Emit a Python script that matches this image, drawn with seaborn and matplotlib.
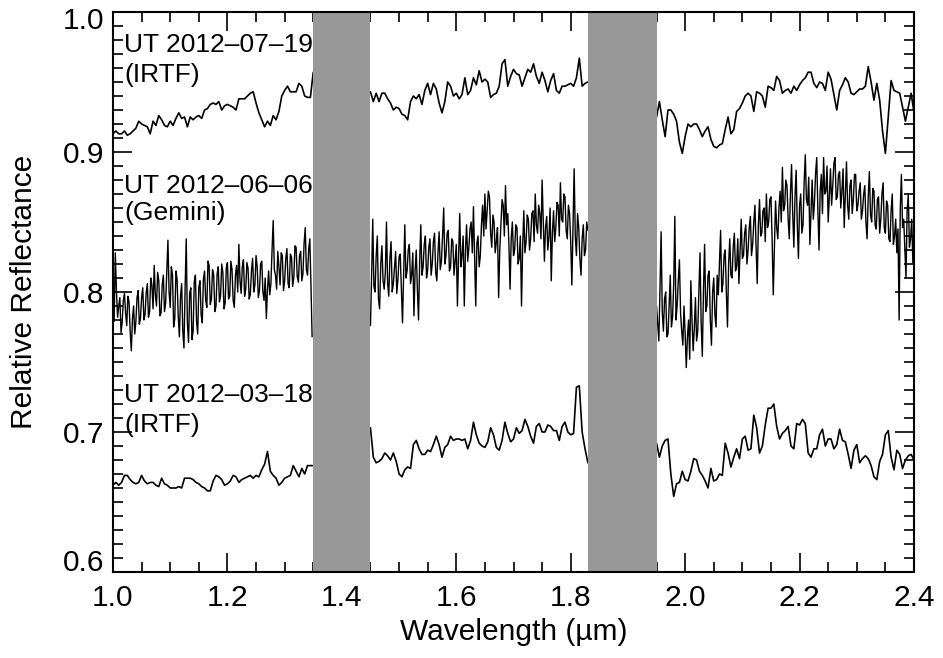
import numpy as np
import pandas as pd
import matplotlib
matplotlib.use("Agg")
import matplotlib.pyplot as plt
import matplotlib.transforms as mtransforms
import seaborn as sns
from matplotlib.ticker import MultipleLocator, FormatStrFormatter

# segment start wavelengths (um) and sampling steps
irtfStep = 0.005
geminiStep = 0.002
segStarts = [1.00, 1.45, 1.95]

# telluric gaps shown as grey bands
gapBands = [(1.35, 1.45), (1.83, 1.95)]

# UT 2012-07-19 (IRTF)
jul19Seg1 = [
    0.913, 0.915, 0.913, 0.913, 0.915, 0.912, 0.913, 0.915, 0.917, 0.922,
    0.920, 0.919, 0.918, 0.913, 0.922, 0.919, 0.926, 0.923, 0.919, 0.918,
    0.922, 0.919, 0.924, 0.928, 0.924, 0.925, 0.918, 0.925, 0.923, 0.925,
    0.926, 0.924, 0.930, 0.931, 0.934, 0.935, 0.934, 0.936, 0.930, 0.933,
    0.934, 0.933, 0.932, 0.930, 0.938, 0.938, 0.938, 0.940, 0.942, 0.943,
    0.935, 0.928, 0.923, 0.918, 0.922, 0.919, 0.926, 0.923, 0.929, 0.940,
    0.944, 0.947, 0.943, 0.943, 0.943, 0.949, 0.947, 0.940, 0.939, 0.939,
    0.957,
]
jul19Seg2 = [
    0.943, 0.936, 0.942, 0.936, 0.942, 0.942, 0.938, 0.935, 0.930, 0.932,
    0.931, 0.927, 0.926, 0.923, 0.936, 0.940, 0.938, 0.941, 0.934, 0.944,
    0.949, 0.941, 0.949, 0.945, 0.935, 0.928, 0.936, 0.950, 0.947, 0.940,
    0.942, 0.938, 0.941, 0.953, 0.941, 0.944, 0.953, 0.948, 0.958, 0.950,
    0.952, 0.950, 0.939, 0.941, 0.942, 0.947, 0.963, 0.966, 0.947, 0.954,
    0.959, 0.956, 0.955, 0.947, 0.953, 0.959, 0.957, 0.963, 0.954, 0.949,
    0.957, 0.951, 0.943, 0.951, 0.956, 0.944, 0.942, 0.947, 0.947, 0.948,
    0.949, 0.947, 0.953, 0.967, 0.947, 0.949, 0.950,
]
jul19Seg3 = [
    0.925, 0.936, 0.923, 0.911, 0.930, 0.930, 0.927, 0.922, 0.907, 0.899,
    0.911, 0.920, 0.918, 0.920, 0.920, 0.916, 0.911, 0.915, 0.918, 0.909,
    0.904, 0.903, 0.905, 0.906, 0.916, 0.925, 0.913, 0.916, 0.929, 0.931,
    0.935, 0.940, 0.942, 0.940, 0.929, 0.943, 0.942, 0.940, 0.932, 0.947,
    0.946, 0.944, 0.954, 0.951, 0.942, 0.944, 0.945, 0.942, 0.947, 0.944,
    0.948, 0.951, 0.953, 0.957, 0.957, 0.949, 0.946, 0.950, 0.949, 0.944,
    0.957, 0.952, 0.941, 0.930, 0.944, 0.948, 0.953, 0.950, 0.942, 0.941,
    0.943, 0.945, 0.945, 0.947, 0.961, 0.950, 0.937, 0.949, 0.937, 0.915,
    0.899, 0.925, 0.951, 0.944, 0.943, 0.942, 0.932, 0.922, 0.932, 0.942,
    0.928,
]

# UT 2012-06-06 (Gemini)
jun06Seg1 = [
    0.792, 0.779, 0.828, 0.801, 0.782, 0.790, 0.796, 0.771, 0.778, 0.794,
    0.799, 0.785, 0.776, 0.797, 0.793, 0.772, 0.758, 0.781, 0.790, 0.770,
    0.779, 0.796, 0.801, 0.777, 0.781, 0.796, 0.803, 0.780, 0.784, 0.799,
    0.806, 0.782, 0.786, 0.810, 0.805, 0.788, 0.819, 0.798, 0.790, 0.814,
    0.808, 0.783, 0.785, 0.805, 0.812, 0.786, 0.792, 0.815, 0.837, 0.800,
    0.789, 0.818, 0.812, 0.775, 0.781, 0.815, 0.809, 0.783, 0.768, 0.797,
    0.806, 0.772, 0.760, 0.802, 0.838, 0.778, 0.764, 0.799, 0.803, 0.766,
    0.772, 0.807, 0.812, 0.779, 0.770, 0.803, 0.808, 0.784, 0.778, 0.809,
    0.815, 0.794, 0.789, 0.822, 0.819, 0.791, 0.795, 0.816, 0.812, 0.786,
    0.790, 0.813, 0.818, 0.793, 0.797, 0.820, 0.814, 0.788, 0.792, 0.817,
    0.821, 0.795, 0.797, 0.822, 0.816, 0.794, 0.789, 0.812, 0.819, 0.800,
    0.834, 0.808, 0.799, 0.818, 0.823, 0.797, 0.802, 0.821, 0.817, 0.795,
    0.798, 0.815, 0.824, 0.800, 0.805, 0.826, 0.818, 0.796, 0.801, 0.820,
    0.822, 0.800, 0.794, 0.810, 0.781, 0.802, 0.815, 0.798, 0.806, 0.830,
    0.851, 0.816, 0.812, 0.802, 0.829, 0.818, 0.805, 0.828, 0.826, 0.801,
    0.808, 0.824, 0.831, 0.806, 0.803, 0.827, 0.825, 0.804, 0.810, 0.833,
    0.832, 0.811, 0.807, 0.826, 0.829, 0.808, 0.813, 0.835, 0.846, 0.816,
    0.812, 0.830, 0.838, 0.805, 0.768,
]
jun06Seg2 = [
    0.776, 0.812, 0.852, 0.804, 0.800, 0.826, 0.840, 0.795, 0.788, 0.820,
    0.833, 0.808, 0.802, 0.814, 0.850, 0.806, 0.797, 0.824, 0.836, 0.800,
    0.806, 0.818, 0.829, 0.799, 0.809, 0.825, 0.827, 0.803, 0.778, 0.812,
    0.848, 0.810, 0.815, 0.830, 0.834, 0.806, 0.812, 0.828, 0.783, 0.815,
    0.830, 0.802, 0.780, 0.822, 0.848, 0.812, 0.818, 0.834, 0.840, 0.810,
    0.816, 0.832, 0.838, 0.812, 0.820, 0.836, 0.842, 0.814, 0.808, 0.828,
    0.843, 0.816, 0.822, 0.840, 0.860, 0.820, 0.826, 0.842, 0.844, 0.815,
    0.818, 0.838, 0.836, 0.812, 0.822, 0.834, 0.790, 0.825, 0.856, 0.818,
    0.826, 0.840, 0.790, 0.830, 0.848, 0.822, 0.832, 0.845, 0.850, 0.828,
    0.861, 0.826, 0.790, 0.835, 0.840, 0.818, 0.826, 0.848, 0.862, 0.840,
    0.870, 0.845, 0.858, 0.872, 0.868, 0.842, 0.832, 0.855, 0.850, 0.828,
    0.836, 0.846, 0.796, 0.830, 0.848, 0.866, 0.862, 0.840, 0.876, 0.848,
    0.856, 0.834, 0.802, 0.838, 0.850, 0.826, 0.830, 0.848, 0.846, 0.820,
    0.824, 0.840, 0.790, 0.832, 0.858, 0.828, 0.836, 0.855, 0.852, 0.830,
    0.838, 0.856, 0.858, 0.836, 0.870, 0.848, 0.842, 0.862, 0.856, 0.838,
    0.880, 0.852, 0.822, 0.846, 0.854, 0.830, 0.840, 0.860, 0.808, 0.842,
    0.858, 0.836, 0.846, 0.864, 0.862, 0.840, 0.878, 0.852, 0.850, 0.870,
    0.868, 0.844, 0.838, 0.862, 0.856, 0.836, 0.805, 0.845, 0.888, 0.840,
    0.826, 0.856, 0.846, 0.824, 0.812, 0.838, 0.848, 0.826, 0.830, 0.850,
    0.844,
]
jun06Seg3 = [
    0.790, 0.778, 0.765, 0.802, 0.843, 0.786, 0.772, 0.795, 0.800, 0.768,
    0.770, 0.790, 0.812, 0.775, 0.782, 0.805, 0.854, 0.780, 0.790, 0.808,
    0.823, 0.785, 0.772, 0.762, 0.790, 0.770, 0.746, 0.768, 0.780, 0.752,
    0.808, 0.780, 0.758, 0.774, 0.796, 0.765, 0.772, 0.800, 0.828, 0.778,
    0.754, 0.800, 0.834, 0.786, 0.790, 0.812, 0.815, 0.780, 0.762, 0.800,
    0.810, 0.784, 0.775, 0.812, 0.798, 0.822, 0.844, 0.800, 0.806, 0.826,
    0.830, 0.800, 0.775, 0.820, 0.838, 0.812, 0.810, 0.832, 0.842, 0.815,
    0.818, 0.838, 0.806, 0.830, 0.852, 0.824, 0.826, 0.842, 0.848, 0.820,
    0.830, 0.846, 0.854, 0.826, 0.834, 0.850, 0.862, 0.832, 0.806, 0.848,
    0.866, 0.840, 0.842, 0.858, 0.860, 0.836, 0.870, 0.846, 0.850, 0.866,
    0.868, 0.838, 0.798, 0.830, 0.865, 0.846, 0.838, 0.860, 0.872, 0.850,
    0.889, 0.858, 0.862, 0.880, 0.876, 0.852, 0.838, 0.870, 0.891, 0.856,
    0.832, 0.868, 0.887, 0.848, 0.824, 0.862, 0.870, 0.842, 0.848, 0.878,
    0.898, 0.866, 0.862, 0.882, 0.834, 0.858, 0.880, 0.852, 0.864, 0.885,
    0.896, 0.858, 0.830, 0.872, 0.884, 0.856, 0.896, 0.870, 0.872, 0.890,
    0.850, 0.868, 0.888, 0.862, 0.876, 0.892, 0.896, 0.866, 0.868, 0.884,
    0.886, 0.860, 0.872, 0.888, 0.846, 0.870, 0.893, 0.862, 0.852, 0.876,
    0.880, 0.856, 0.866, 0.884, 0.884, 0.858, 0.862, 0.872, 0.878, 0.852,
    0.858, 0.870, 0.876, 0.850, 0.838, 0.868, 0.886, 0.855, 0.850, 0.874,
    0.872, 0.848, 0.845, 0.866, 0.868, 0.842, 0.852, 0.870, 0.878, 0.846,
    0.842, 0.865, 0.862, 0.838, 0.836, 0.858, 0.870, 0.834, 0.840, 0.852,
    0.828, 0.845, 0.780, 0.860, 0.884, 0.846, 0.852, 0.830, 0.810, 0.858,
    0.870, 0.832, 0.838, 0.852, 0.821,
]

# UT 2012-03-18 (IRTF)
mar18Seg1 = [
    0.662, 0.664, 0.662, 0.664, 0.669, 0.669, 0.666, 0.664, 0.663, 0.664,
    0.669, 0.665, 0.663, 0.664, 0.664, 0.662, 0.661, 0.667, 0.663, 0.662,
    0.660, 0.660, 0.660, 0.661, 0.660, 0.667, 0.667, 0.667, 0.666, 0.664,
    0.663, 0.661, 0.660, 0.658, 0.658, 0.665, 0.669, 0.668, 0.666, 0.662,
    0.663, 0.665, 0.669, 0.668, 0.664, 0.666, 0.667, 0.668, 0.669, 0.667,
    0.669, 0.668, 0.673, 0.677, 0.686, 0.672, 0.669, 0.667, 0.662, 0.664,
    0.667, 0.668, 0.669, 0.676, 0.672, 0.668, 0.674, 0.670, 0.676, 0.676,
    0.676,
]
mar18Seg2 = [
    0.703, 0.682, 0.678, 0.679, 0.681, 0.685, 0.683, 0.680, 0.685, 0.679,
    0.670, 0.668, 0.673, 0.675, 0.674, 0.691, 0.694, 0.688, 0.684, 0.684,
    0.687, 0.686, 0.691, 0.697, 0.691, 0.682, 0.689, 0.691, 0.697, 0.694,
    0.695, 0.695, 0.694, 0.695, 0.688, 0.694, 0.707, 0.698, 0.692, 0.690,
    0.689, 0.693, 0.703, 0.698, 0.689, 0.687, 0.694, 0.707, 0.699, 0.693,
    0.695, 0.703, 0.699, 0.701, 0.709, 0.704, 0.697, 0.692, 0.704, 0.706,
    0.700, 0.700, 0.705, 0.704, 0.701, 0.701, 0.694, 0.704, 0.707, 0.700,
    0.698, 0.699, 0.732, 0.733, 0.700, 0.688, 0.678,
]
mar18Seg3 = [
    0.692, 0.682, 0.690, 0.694, 0.695, 0.670, 0.654, 0.663, 0.664, 0.672,
    0.666, 0.665, 0.672, 0.681, 0.680, 0.672, 0.669, 0.665, 0.660, 0.674,
    0.665, 0.666, 0.670, 0.669, 0.692, 0.685, 0.675, 0.682, 0.688, 0.681,
    0.695, 0.697, 0.687, 0.688, 0.712, 0.703, 0.685, 0.690, 0.705, 0.717,
    0.717, 0.720, 0.704, 0.695, 0.699, 0.701, 0.704, 0.690, 0.688, 0.706,
    0.705, 0.709, 0.706, 0.685, 0.682, 0.688, 0.688, 0.698, 0.702, 0.690,
    0.695, 0.695, 0.688, 0.691, 0.702, 0.694, 0.693, 0.684, 0.674, 0.687,
    0.691, 0.678, 0.681, 0.683, 0.681, 0.676, 0.668, 0.666, 0.679, 0.684,
    0.698, 0.701, 0.682, 0.673, 0.687, 0.684, 0.674, 0.680, 0.683, 0.684,
    0.680,
]

labels = [
    ("UT 2012\u201307\u201319", "(IRTF)", 0.9716, 0.9502),
    ("UT 2012\u201306\u201306", "(Gemini)", 0.8705, 0.8514),
    ("UT 2012\u201303\u201318", "(IRTF)", 0.7216, 0.7002),
]


def buildSpectrum(segments, step):
    rows = []
    for segId, (start, vals) in enumerate(zip(segStarts, segments)):
        n = len(vals)
        wl = np.linspace(start, start + step * (n - 1), n)
        for w, r in zip(wl, vals):
            rows.append({"wavelength": w, "reflectance": r, "segment": segId})
    return pd.DataFrame(rows)


jul19 = buildSpectrum([jul19Seg1, jul19Seg2, jul19Seg3], irtfStep)
jun06 = buildSpectrum([jun06Seg1, jun06Seg2, jun06Seg3], geminiStep)
mar18 = buildSpectrum([mar18Seg1, mar18Seg2, mar18Seg3], irtfStep)

sns.set_style("ticks")
plt.rcParams["font.family"] = ["Liberation Sans", "DejaVu Sans"]
plt.rcParams["text.color"] = "black"
plt.rcParams["axes.labelcolor"] = "black"
plt.rcParams["xtick.color"] = "black"
plt.rcParams["ytick.color"] = "black"

fig = plt.figure(figsize=(9.43, 6.58), dpi=100)
ax = fig.add_axes([113 / 943, 86 / 658, 801 / 943, 560 / 658])

for df, lw in [(jul19, 1.2), (jun06, 1.0), (mar18, 1.2)]:
    sns.lineplot(data=df, x="wavelength", y="reflectance", units="segment",
                 estimator=None, color="black", lw=lw, ax=ax, sort=False)

for lo, hi in gapBands:
    ax.axvspan(lo, hi, color="#989898", lw=0, zorder=5)

for line1, line2, y1, y2 in labels:
    ax.text(1.020, y1, line1, fontsize=19, va="baseline", ha="left")
    ax.text(1.020, y2, line2, fontsize=19, va="baseline", ha="left")

ax.set_xlim(1.0, 2.4)
ax.set_ylim(0.6, 1.0)
ax.xaxis.set_major_locator(MultipleLocator(0.2))
ax.xaxis.set_minor_locator(MultipleLocator(0.05))
ax.yaxis.set_major_locator(MultipleLocator(0.1))
ax.yaxis.set_minor_locator(MultipleLocator(0.01))
ax.xaxis.set_major_formatter(FormatStrFormatter("%.1f"))
ax.yaxis.set_major_formatter(FormatStrFormatter("%.1f"))

ax.tick_params(which="both", direction="in", top=True, right=True,
               width=1.2, color="black", labelsize=21.5, labelcolor="black")
ax.tick_params(which="major", length=14)
ax.tick_params(which="minor", length=7)
ax.tick_params(axis="x", pad=9)
ax.tick_params(axis="y", pad=6)
for spine in ax.spines.values():
    spine.set_linewidth(1.5)
    spine.set_color("black")
    spine.set_zorder(10)

ax.set_xlabel("Wavelength (\u00b5m)", fontsize=21.5)
ax.set_ylabel("Relative Reflectance", fontsize=21.5)
ax.xaxis.set_label_coords(0.5, -0.082)
ax.yaxis.set_label_coords(-0.094, 0.5)

# nudge the end y labels inside the frame, as in the original
fig.canvas.draw()
yticks = ax.yaxis.get_major_ticks()
for tick in yticks:
    val = tick.get_loc()
    if abs(val - 1.0) < 1e-6:
        shift = -6 / 100
    elif abs(val - 0.6) < 1e-6:
        shift = 12 / 100
    else:
        continue
    tick.label1.set_transform(tick.label1.get_transform() +
                              mtransforms.ScaledTranslation(0, shift, fig.dpi_scale_trans))

fig.savefig("out.png", dpi=100)
